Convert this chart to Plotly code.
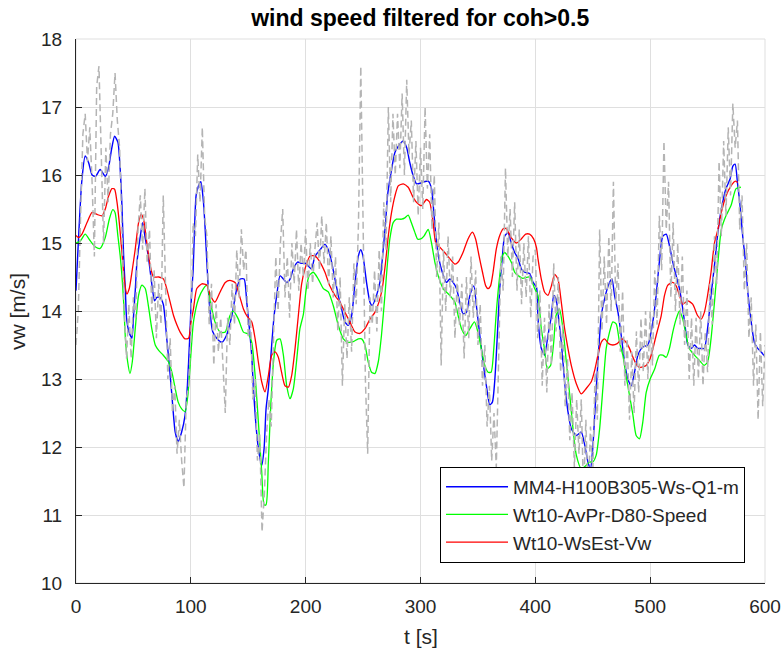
import plotly.graph_objects as go

# ---- data ----
blue_pts = [(0,14.3),(2,15.0),(5,15.9),(8,16.28),(11,16.18),(14,16.0),(17,15.98),(21,16.08),(25.5,15.98),(28,16.08),
(31,16.38),(33.6,16.57),(36.5,16.48),(38.5,16.08),(40,15.55),(41.5,14.8),(43,14.3),(44,13.9),(46,13.7),(48.7,13.6),
(50,13.9),(51.6,14.3),(53,14.7),(56,15.1),(58,15.3),(60,15.1),(63,14.8),(66,14.4),(68.4,14.15),(70.4,14.2),
(73,14.2),(76,14.1),(79,13.6),(81,13.25),(83.5,12.76),(86.4,12.22),(89,12.08),(92,12.22),(95,12.47),(97,12.9),
(99,13.6),(100.5,14.2),(102,14.6),(103,15.1),(104.6,15.7),(106.7,15.84),(108.7,15.9),(111,15.6),(112.5,15.2),(114,14.7),
(116,14.13),(119,13.7),(122.6,13.6),(127,13.54),(131,13.64),(135.7,13.93),(140,14.33),(143,14.47),(146.4,14.47),(148.7,14.13),
(151,13.74),(153,13.35),(154.5,12.86),(156.5,12.37),(158.8,11.98),(161.7,11.73),(163.8,11.98),(165.5,12.56),(167.5,12.86),(170.4,13.5),
(172.5,13.93),(174.8,14.23),(177.7,14.52),(180.6,14.47),(183.5,14.42),(186.4,14.47),(189.3,14.62),(193,14.72),(196.5,14.7),(200,14.7),
(205,14.62),(208,14.8),(212.5,14.9),(216.8,14.98),(219.7,14.9),(222.6,14.72),(225.5,14.47),(228.4,14.23),(231.3,14.03),(234.2,13.84),
(237,13.79),(240,13.93),(243,14.42),(245.8,14.8),(248,14.9),(250,14.8),(253,14.42),(256,14.13),(258,14.08),(261.7,14.23),
(264.6,14.42),(267.5,14.9),(269.6,15.3),(271.3,15.7),(274.8,16.08),(277.7,16.33),(281,16.43),(285,16.5),(288,16.4),(290.7,16.18),
(293.6,15.99),(296.5,15.87),(300,15.88),(303,15.9),(306.7,15.91),(309.6,15.8),(311.6,15.45),(314,15.0),(316,14.77),(319,14.57),
(322.6,14.42),(325.5,14.47),(328.4,14.42),(331.3,14.33),(334.2,14.13),(337,13.96),(340,13.98),(343,14.23),(346.4,14.37),(349,14.03),
(352,13.59),(354.5,13.25),(357.4,12.9),(360.3,12.62),(362.6,12.66),(364.6,12.96),(366,13.35),(367.5,13.84),(369,14.33),(371.3,14.8),
(373.3,15.1),(376.2,15.15),(379,15.0),(382,14.86),(385,14.77),(387.8,14.62),(390.7,14.57),(395,14.55),(398,14.42),(401,14.35),
(402.3,13.89),(405.2,13.45),(408,13.35),(411,13.64),(414,13.93),(416,14.23),(418,14.18),(420.3,13.89),(422.6,13.54),(425.5,12.96),
(428.4,12.52),(431.3,12.27),(435.7,12.17),(440,12.22),(443,12.03),(445.8,11.78),(448,11.68),(450,11.98),(452,12.56),(454.5,13.25),
(457.4,13.93),(461,14.23),(464.6,14.42),(466.7,14.47),(469,14.23),(472,13.98),(474.8,13.64),(477.7,13.25),(480.6,13.0),(483.5,12.9),
(486.4,13.1),(489.3,13.35),(493.6,13.47),(498,13.5),(502.3,13.84),(505.2,14.23),(508,14.72),(511,15.1),(514,15.13),(516.8,14.96),
(519.7,14.72),(522.6,14.52),(525.5,14.33),(528.4,14.03),(530.7,13.74),(532.8,13.5),(535.7,13.45),(538.6,13.5),(541.4,13.45),(544.3,13.45),
(547.2,13.45),(550,13.74),(553,14.23),(556,14.67),(559,15.16),(562,15.5),(566,15.8),(569.6,15.94),(572,16.13),(574,16.16),
(576,15.89),(578,15.6),(580.6,15.1),(583,14.72),(585,14.28),(588,13.84),(590.7,13.54),(593.6,13.45),(596.5,13.4),(600,13.33)]

green_pts = [(0,15.0),(3.8,15.03),(8,15.13),(12.5,15.03),(17,14.94),(21,14.92),(25.5,15.08),(29,15.35),(32,15.49),(34,15.45),
(36.5,15.1),(38.5,14.81),(40,14.52),(41.5,14.13),(43,13.6),(45,13.25),(47,13.08),(49,13.25),(51.6,13.74),(54.5,14.23),
(57.4,14.38),(60.3,14.33),(63,14.08),(66,13.74),(69,13.5),(72,13.42),(76,13.35),(80.6,13.25),(83.5,13.1),(86.4,12.86),
(89,12.66),(92,12.56),(95,12.52),(97.4,12.76),(99.4,13.2),(102.3,13.84),(106.7,14.18),(111,14.33),(114,14.38),(117,14.13),
(121,13.84),(125.5,13.69),(130,13.69),(134,13.93),(137,14.0),(141.4,13.88),(145.8,13.69),(150,13.66),(153,13.54),(156,13.05),
(158.8,12.37),(161.7,11.64),(163.8,11.15),(165.5,11.15),(167.5,11.78),(169.6,12.61),(172,13.25),(174.8,13.57),(177.7,13.59),(180.6,13.35),
(183.5,12.9),(186.4,12.71),(189.3,12.86),(192,13.25),(195,13.74),(198,13.95),(200.3,14.3),(203,14.52),(206.7,14.57),(211,14.47),
(215.4,14.33),(219.7,14.28),(224,14.08),(228.4,13.79),(232.8,13.59),(237,13.54),(241.4,13.55),(245.8,13.59),(248.7,13.59),(251.6,13.5),
(254.5,13.25),(257.4,13.1),(260.3,13.08),(263.2,13.25),(266,13.64),(269,14.23),(271.3,14.72),(273.3,15.06),(276.2,15.3),(279,15.35),
(283.5,15.35),(286.4,15.37),(289.3,15.41),(292,15.3),(295,15.16),(297.4,15.06),(300.3,15.06),(303,15.1),(306.7,15.2),(309.6,15.0),
(312.5,14.72),(315.4,14.52),(319.7,14.33),(325.5,14.23),(330,14.13),(332.8,13.93),(335.7,13.74),(339.4,13.64),(343,13.74),(347,13.84),
(350,13.69),(353,13.44),(356,13.2),(358.8,13.1),(361.5,13.1),(363.8,13.44),(366,13.98),(369,14.52),(371.3,14.81),(373.3,14.86),
(376,14.81),(379,14.72),(382,14.57),(385,14.52),(389,14.48),(395,14.5),(399.4,14.33),(402.3,14.23),(405.2,13.74),(408,13.44),
(410.4,13.15),(413.3,13.2),(416,13.54),(418,13.93),(421,14.03),(424,13.74),(427,13.25),(430,12.76),(432.8,12.27),(435.7,11.88),
(440,11.68),(444.3,11.73),(447.2,11.78),(450,11.78),(453,11.88),(456,12.27),(458.8,12.86),(461.7,13.45),(464.6,13.69),(467.5,13.84),
(470.4,13.81),(473.3,13.54),(476.2,13.35),(479,13.05),(482,12.76),(485,12.47),(487.8,12.17),(490.7,12.12),(493.6,12.37),(496.5,12.8),
(500,13.0),(504,13.15),(508,13.35),(511,13.35),(514,13.32),(516.8,13.45),(519.7,13.69),(522.6,13.88),(525.5,14.0),(528.4,13.88),
(531.3,13.64),(534,13.45),(538.6,13.35),(543,13.27),(547,13.2),(550,13.25),(553,13.59),(556,14.13),(559,14.72),(562,15.2),
(566,15.4),(570.4,15.55),(574.8,15.8),(579,15.82)]

red_pts = [(0,15.11),(2.3,15.08),(5.2,15.13),(9.6,15.3),(14,15.45),(18.3,15.42),(22.6,15.4),(25.5,15.5),(28.4,15.69),(31.3,15.8),
(33.6,15.79),(35.7,15.6),(37.7,15.3),(40,14.86),(42.3,14.42),(44.3,14.25),(46.4,14.33),(48.7,14.57),(51.6,14.91),(54.5,15.3),
(56.8,15.42),(58.8,15.35),(61.7,15.0),(64.6,14.67),(67.5,14.5),(72,14.5),(76.2,14.47),(79,14.33),(82,14.13),(85,13.93),
(88,13.79),(90.7,13.69),(95,13.59),(98,13.6),(100.3,13.85),(102.3,14.03),(105.2,14.33),(109.6,14.4),(114,14.38),(117,14.23),
(121,14.13),(125.5,14.28),(130,14.42),(134,14.45),(138.5,14.42),(142.3,14.23),(145.8,14.03),(148.7,13.93),(153,13.84),(156,13.59),
(158.8,13.25),(161.7,12.96),(164.6,12.81),(167.5,13.05),(170.4,13.35),(173.3,13.4),(176.2,13.32),(179,13.1),(182,12.9),(185,12.88),
(187.8,13.05),(190.7,13.44),(193.6,13.93),(196.5,14.4),(199.4,14.62),(203.8,14.81),(208,14.81),(212.5,14.72),(216.8,14.57),(221,14.37),
(225.5,14.23),(229.8,14.13),(234.2,13.98),(238.5,13.84),(243,13.69),(247.2,13.67),(251.6,13.74),(256,13.88),(260.3,13.98),(263.8,14.13),
(266.7,14.33),(269.6,14.72),(272,15.11),(274.8,15.45),(277.7,15.69),(280.6,15.84),(285,15.87),(289.3,15.82),(293,15.69),(296.5,15.6),
(300.9,15.55),(305.2,15.64),(308,15.6),(311,15.3),(313.3,15.0),(316.8,14.94),(321,14.86),(325.5,14.77),(330,14.69),(332.8,14.72),
(337,14.86),(341.4,15.06),(345.2,15.16),(348,15.06),(351,14.81),(354,14.57),(356.8,14.37),(358.8,14.33),(361,14.37),(363.2,14.57),
(366,14.91),(369,15.11),(372,15.21),(374.8,15.21),(379,15.08),(383.5,15.0),(387.8,15.06),(391.6,15.13),(395,15.13),(398.5,15.06),
(401,14.93),(402.3,14.77),(405.2,14.47),(408,14.28),(411,14.23),(414,14.37),(416.8,14.54),(419.7,14.47),(422.6,14.13),(425.5,13.74),
(428.4,13.45),(431.3,13.2),(435.7,12.93),(440,12.78),(444.3,12.86),(448.7,12.96),(452,13.15),(454.5,13.35),(457.4,13.54),(460.3,13.59),
(463.8,13.52),(467.5,13.5),(471.3,13.52),(475.4,13.59),(479,13.54),(482,13.45),(485,13.32),(487.8,13.22),(490.7,13.17),(493.6,13.18),
(496.5,13.2),(500,13.3),(505.2,13.64),(509.6,13.93),(512.5,14.23),(515.4,14.38),(519.7,14.42),(522.6,14.37),(525.5,14.23),(528.4,14.1),
(532.8,14.15),(537,14.1),(541.4,13.93),(544.3,13.88),(547.2,13.98),(550,14.23),(553,14.57),(556,15.0),(559,15.2),(562,15.45),
(566,15.69),(570.4,15.84),(574.2,15.91),(576.2,15.89)]

# raw (unfiltered) signal, one value every 2 s, 20 s per row
raw_t0, raw_dt = 0, 2
raw_vals = [
13.5,14.0,15.4,16.6,16.9,16.2,16.7,15.9,14.8,17.3,
17.6,16.3,15.0,16.4,15.6,16.6,16.9,17.5,16.8,16.4,
15.2,14.0,13.3,14.1,13.3,14.2,13.9,15.2,15.7,14.9,
15.8,14.7,15.2,14.0,14.6,13.6,14.4,13.8,15.7,14.3,
13.0,13.6,12.5,12.9,11.9,12.4,11.8,11.4,12.7,12.9,
13.6,15.3,15.1,16.3,15.6,16.7,15.4,15.1,13.8,14.4,
13.2,14.1,13.4,13.9,13.2,12.5,13.9,13.5,14.4,13.8,
14.9,14.2,15.2,14.6,14.9,13.6,13.9,12.7,13.0,11.8,
12.2,10.75,11.3,12.2,12.7,12.3,13.6,14.8,14.0,15.0,
15.5,14.2,14.8,13.9,15.0,14.4,15.2,14.3,15.0,14.5,
15.2,14.3,15.0,14.4,14.9,15.3,14.6,15.4,14.7,15.3,
14.4,15.1,14.2,14.8,13.7,14.5,12.9,14.1,13.3,14.2,
13.4,14.7,14.1,15.3,17.6,15.2,13.0,11.9,14.2,13.8,
14.6,13.7,14.9,14.0,15.6,14.9,17.0,15.6,16.9,16.0,
16.9,16.1,17.2,16.0,17.4,16.3,16.8,15.6,16.5,15.4,
16.4,15.5,17.0,15.8,16.6,15.2,16.0,14.5,15.3,13.2,
14.9,14.0,15.1,14.2,14.8,13.6,14.5,13.8,14.4,13.3,
14.5,13.6,14.8,13.9,14.6,13.5,14.1,12.9,13.5,12.3,
12.9,11.8,12.5,11.7,13.3,14.8,14.3,16.1,14.8,15.5,
14.5,15.6,14.3,15.2,14.1,15.0,14.2,15.1,13.9,14.8,
14.9,13.6,14.3,12.9,13.9,12.8,14.1,13.2,14.7,13.7,
14.5,13.1,13.8,12.6,13.3,12.1,12.8,11.7,12.7,11.9,
12.7,11.3,12.4,11.2,12.3,11.6,13.1,12.4,15.2,13.7,
14.8,13.8,15.1,14.0,15.9,14.1,14.7,13.4,14.3,12.9,
13.6,12.4,13.4,12.5,13.7,12.8,13.9,13.1,14.0,13.0,
14.0,13.2,14.6,13.8,15.4,14.6,16.5,15.2,15.9,14.2,
15.3,14.0,15.0,13.8,14.8,13.5,14.3,13.0,13.9,12.9,
13.9,13.0,14.0,12.9,13.7,13.1,14.4,13.8,15.1,14.4,
16.2,15.1,16.5,15.4,16.7,15.7,17.05,16.4,16.8,15.2,
15.7,14.3,15.0,13.6,14.2,12.9,13.8,12.4,13.7,12.6,
13.5]
raw_t = [raw_t0 + raw_dt * i for i in range(len(raw_vals))]

names = ["MM4-H100B305-Ws-Q1-m", "Wt10-AvPr-D80-Speed", "Wt10-WsEst-Vw"]
title_text = "wind speed filtered for coh>0.5"
x_label = "t [s]"
y_label = "vw [m/s]"
x_ticks = [0, 100, 200, 300, 400, 500, 600]
y_ticks = [10, 11, 12, 13, 14, 15, 16, 17, 18]

FONT = "Liberation Sans, Arial, Helvetica, sans-serif"
TXT = "#262626"

fig = go.Figure()
for pts, name, col, w in [(blue_pts, names[0], "#0000FF", 1.4),
                          (green_pts, names[1], "#00FF00", 1.3),
                          (red_pts, names[2], "#FF0000", 1.3)]:
    fig.add_trace(go.Scatter(x=[p[0] for p in pts], y=[p[1] for p in pts], mode="lines",
                             name=name, line=dict(color=col, width=w, shape="spline", smoothing=0.6)))
fig.add_trace(go.Scatter(x=raw_t, y=raw_vals, mode="lines", showlegend=False,
                         line=dict(color="#B4B4B4", width=1.5, dash="7px,4px")))

axis_common = dict(showgrid=True, gridcolor="#DFDFDF", gridwidth=1, zeroline=False,
                   showline=True, linecolor=TXT, linewidth=1, ticks="inside", ticklen=6,
                   tickcolor=TXT, tickfont=dict(family=FONT, size=19, color=TXT), mirror=False,
                   automargin=False)
fig.update_xaxes(range=[0, 600], tickvals=x_ticks, ticklabelstandoff=6, **axis_common)
fig.update_yaxes(range=[10, 18], tickvals=y_ticks, ticklabelstandoff=9, **axis_common)

fig.update_layout(
    width=784, height=654,
    margin=dict(l=76, r=19, t=39, b=71),
    paper_bgcolor="white", plot_bgcolor="white",
    title=dict(text="<b>" + title_text + "</b>", x=0.536, xanchor="center", xref="container",
               y=1 - 18 / 654, yanchor="middle", yref="container",
               font=dict(family=FONT, size=23, color="black")),
    legend=dict(x=0.971, y=0.037, xanchor="right", yanchor="bottom",
                bgcolor="white", bordercolor="black", borderwidth=1, itemwidth=62,
                font=dict(family=FONT, size=19, color=TXT), tracegroupgap=0),
    shapes=[dict(type="rect", xref="paper", yref="paper", x0=0, y0=0, x1=1, y1=1,
                 line=dict(color="#DFDFDF", width=1), layer="below")],
    annotations=[
        dict(text=x_label, xref="paper", yref="paper", x=0.5, y=-53 / 544, yanchor="middle",
             showarrow=False, font=dict(family=FONT, size=21, color=TXT)),
        dict(text=y_label, xref="paper", yref="paper", x=-59 / 689, y=0.5, xanchor="center",
             textangle=-90, showarrow=False, font=dict(family=FONT, size=21, color=TXT)),
    ],
)

fig.write_html("out.html")
